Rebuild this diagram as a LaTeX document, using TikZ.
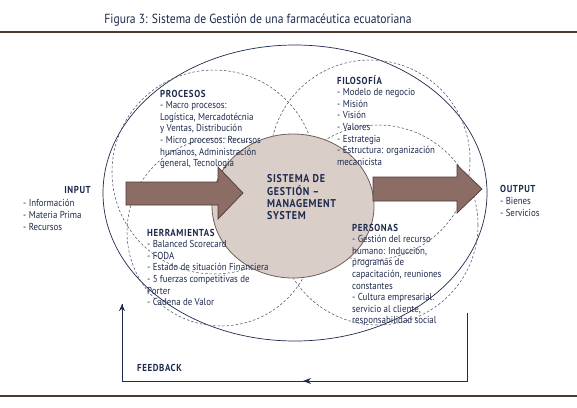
\documentclass[tikz,border=0pt]{standalone}
\usepackage{fontspec}
\setmainfont{PT Sans}[FakeStretch=0.88]
\usetikzlibrary{arrows.meta}
\definecolor{navy}{HTML}{1E2B4D}
\definecolor{rulebrown}{HTML}{4A3A32}
\definecolor{arrowfill}{HTML}{8C6D65}
\definecolor{arrowline}{HTML}{4E3A36}
\definecolor{corefill}{HTML}{DACEC9}
\definecolor{coreline}{HTML}{6E5E5A}
\definecolor{dashcol}{HTML}{50566A}
\newcommand\hd[1]{{\bfseries\addfontfeature{LetterSpace=6}#1}}
\newcommand\blk[1]{\begin{tabular}[t]{@{}l@{}}#1\end{tabular}}
\tikzset{
  txt/.style={anchor=base west, inner sep=0pt, text=navy, font=\fontsize{10.1}{11.6}\selectfont},
  dashcirc/.style={draw=dashcol, line width=0.55pt, dash pattern=on 2.5pt off 2pt},
  blockarrow/.style={fill=arrowfill, draw=arrowline, line width=0.7pt, line join=miter},
  fbline/.style={draw=navy, line width=0.8pt},
}
\begin{document}
\begin{tikzpicture}[x=1pt,y=-1pt]
\useasboundingbox (0,0) rectangle (577,407);
\fill[white] (0,0) rectangle (577,407);
% title and rules
\node[text=navy, font=\fontsize{13.2}{15}\selectfont, anchor=base] (title) at (258,23) {Figura 3: Sistema de Gestión de una farmacéutica ecuatoriana};
\draw[rulebrown, line width=1.3pt] (0,32) -- (577,32);
\draw[rulebrown, line width=1.3pt] (0,396) -- (577,396);
% big ellipse
\draw[navy, line width=0.7pt] (295,193) ellipse [x radius=192, y radius=148];
% dashed circles
\draw[dashcirc] (214,172) circle [radius=102];
\draw[dashcirc] (370,160) circle [radius=100];
\draw[dashcirc] (221,232) circle [radius=94];
\draw[dashcirc] (378,225) circle [radius=100];
% core
\draw[fill=corefill, draw=coreline, line width=0.8pt] (293,206) ellipse [x radius=81, y radius=72];
% block arrows
\draw[blockarrow] (126,182) -- (218,182) -- (218,167) -- (243,193) -- (218,219) -- (218,205) -- (126,205) -- cycle;
\draw[blockarrow] (373,177) -- (457,177) -- (457,165) -- (482,189) -- (457,213) -- (457,201) -- (373,201) -- cycle;
% texts
\node[txt] (procesos) at (160,97) {\blk{\hd{PROCESOS}\\- Macro procesos:\\Logística, Mercadotécnia\\y Ventas, Distribución\\- Micro procesos: Recursos\\humanos, Administración\\general, Tecnología}};
\node[txt] (filosofia) at (337,84) {\blk{\hd{FILOSOFÍA}\\- Modelo de negocio\\- Misión\\- Visión\\- Valores\\- Estrategia\\- Estructura: organización\\mecanicista}};
\node[txt] (herr) at (147,236) {\blk{\hd{HERRAMIENTAS}\\- Balanced Scorecard\\- FODA\\- Estado de situación Financiera\\- 5 fuerzas competitivas de\\Porter\\- Cadena de Valor}};
\node[txt] (personas) at (352,231) {\blk{\hd{PERSONAS}\\- Gestión del recurso\\humano: Inducción,\\programas de\\capacitación, reuniones\\constantes\\- Cultura empresarial:\\servicio al cliente,\\responsabilidad social}};
\node[txt, font=\fontsize{11.3}{12}\selectfont\bfseries\addfontfeature{LetterSpace=6}] (core) at (267,182) {\blk{SISTEMA DE\\GESTIÓN –\\MANAGEMENT\\SYSTEM}};
\node[txt, anchor=base east] (input) at (91,193) {\hd{INPUT}};
\node[txt, font=\fontsize{10.1}{12}\selectfont] (inputlist) at (23,206) {\blk{- Información\\- Materia Prima\\- Recursos}};
\node[txt, font=\fontsize{10.1}{12.4}\selectfont] (output) at (500,192) {\blk{\hd{OUTPUT}\\- Bienes\\- Servicios}};
\node[txt] (feedback) at (137,371) {\hd{FEEDBACK}};
% feedback loop
\coordinate (fbA) at (467,313);
\coordinate (fbB) at (467,381);
\coordinate (fbM) at (303,381);
\coordinate (fbC) at (122,381);
\coordinate (fbD) at (122,304);
\draw[fbline] (fbA) -- (fbB) -- (fbC) -- (fbD);
\draw[fbline, -{Stealth[length=7pt,width=6pt]}] (fbC) -- ([yshift=-0.1pt]fbD);
\draw[fbline, -{Stealth[length=8pt,width=6pt]}] (fbB) -- (fbM);
\end{tikzpicture}
\end{document}
